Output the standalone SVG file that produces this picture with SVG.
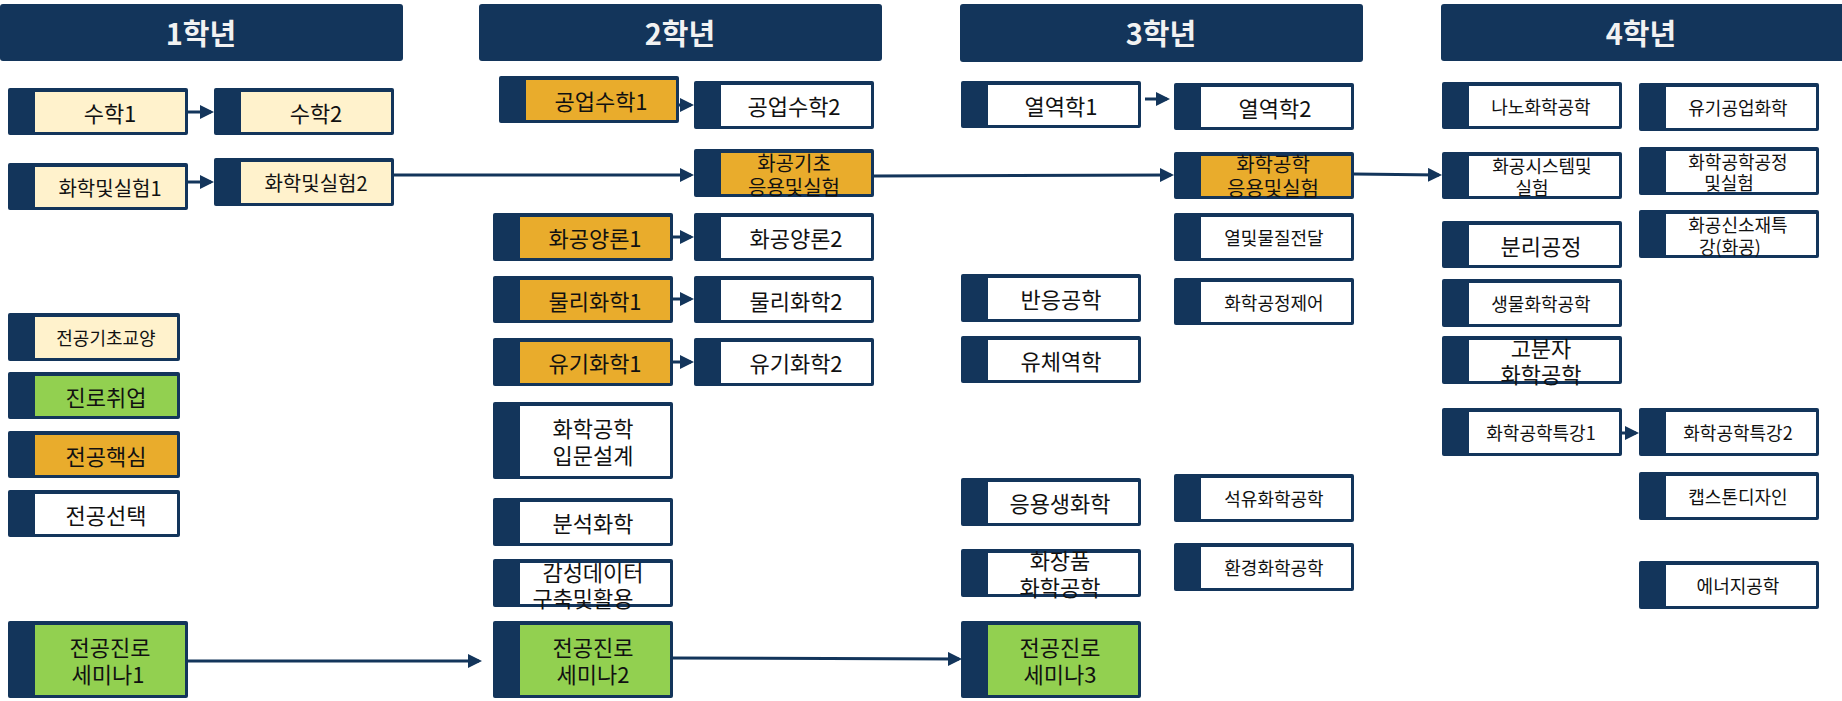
<svg xmlns="http://www.w3.org/2000/svg" width="1842" height="701" viewBox="0 0 1842 701">
<style>
.hd{fill:#13355b}
.ht{font-family:"Noto Sans CJK KR","Noto Sans",sans-serif;font-weight:bold;font-size:29px;fill:#f2f2f2;text-anchor:middle;dominant-baseline:central}
.o{fill:#13355b}
.cr{fill:#fff2cc}
.gr{fill:#92d050}
.or{fill:#e9ac2c}
.wh{fill:#ffffff}
text.t{font-family:"Noto Sans CJK KR","Noto Sans",sans-serif;fill:#111;text-anchor:middle;dominant-baseline:central}
.l{font-size:22px}
.m{font-size:20px}
.s{font-size:18px}
.c{fill:none;stroke:#13355b;stroke-width:3;marker-end:url(#arr)}
.cn{fill:none;stroke:#13355b;stroke-width:3}
</style>
<defs>
<marker id="arr" viewBox="0 0 14 14" refX="11" refY="7" markerWidth="14" markerHeight="14" markerUnits="userSpaceOnUse" orient="auto">
<path d="M0,0 L14,7 L0,14 z" fill="#13355b"/>
</marker>
</defs>
<rect width="1842" height="701" fill="#ffffff"/>
<g id="headers">
<rect class="hd" x="0" y="4" width="403" height="57" rx="3"/><text class="ht" x="201" y="32">1학년</text>
<rect class="hd" x="479" y="4" width="403" height="57" rx="3"/><text class="ht" x="680" y="32">2학년</text>
<rect class="hd" x="960" y="4" width="403" height="58" rx="3"/><text class="ht" x="1161" y="32">3학년</text>
<rect class="hd" x="1441" y="4" width="410" height="57" rx="3"/><text class="ht" x="1641" y="32">4학년</text>
</g>
<g id="connectors">
<path class="c" d="M188,112 H211"/>
<path class="c" d="M188,182 H211"/>
<path class="cn" d="M394,175 H600"/><path class="c" d="M600,175 H691"/>
<path class="c" d="M679,105 H691"/>
<path class="c" d="M673,237 H691"/>
<path class="c" d="M673,299 H691"/>
<path class="c" d="M673,362 H691"/>
<path class="c" d="M874,176 L1171,175"/>
<path class="c" d="M1145,99 H1167"/>
<path class="c" d="M1354,174 L1439,175"/>
<path class="c" d="M1622,433 H1636"/>
<path class="c" d="M188,661 H479"/>
<path class="c" d="M673,658 L959,659"/>
</g>
<g id="n-math1"><rect class="o" x="8" y="88" width="180" height="47" rx="2"/><rect class="cr" x="35" y="92" width="150" height="40"/><text class="t l" x="110" y="112">수학1</text></g>
<g id="n-math2"><rect class="o" x="214" y="88" width="180" height="47" rx="2"/><rect class="cr" x="241" y="92" width="150" height="40"/><text class="t l" x="316" y="112">수학2</text></g>
<g id="n-chem1"><rect class="o" x="8" y="163" width="180" height="47" rx="2"/><rect class="cr" x="35" y="167" width="150" height="40"/><text class="t m" x="110" y="187">화학및실험1</text></g>
<g id="n-chem2"><rect class="o" x="214" y="158" width="180" height="48" rx="2"/><rect class="cr" x="241" y="162" width="150" height="41"/><text class="t m" x="316" y="182">화학및실험2</text></g>
<g id="n-leg1"><rect class="o" x="8" y="313" width="172" height="48" rx="2"/><rect class="cr" x="35" y="317" width="142" height="41"/><text class="t s" x="106" y="337">전공기초교양</text></g>
<g id="n-leg2"><rect class="o" x="8" y="372" width="172" height="47" rx="2"/><rect class="gr" x="35" y="376" width="142" height="40"/><text class="t l" x="106" y="396">진로취업</text></g>
<g id="n-leg3"><rect class="o" x="8" y="431" width="172" height="47" rx="2"/><rect class="or" x="35" y="435" width="142" height="40"/><text class="t l" x="106" y="455">전공핵심</text></g>
<g id="n-leg4"><rect class="o" x="8" y="490" width="172" height="47" rx="2"/><rect class="wh" x="35" y="494" width="142" height="40"/><text class="t l" x="106" y="514">전공선택</text></g>
<g id="n-sem1"><rect class="o" x="8" y="621" width="180" height="77" rx="2"/><rect class="gr" x="35" y="625" width="150" height="70"/><text class="t l" x="110" y="646">전공진로</text><text class="t l" x="108" y="673">세미나1</text></g>
<g id="n-emath1"><rect class="o" x="499" y="76" width="180" height="47" rx="2"/><rect class="or" x="526" y="80" width="150" height="40"/><text class="t l" x="601" y="100">공업수학1</text></g>
<g id="n-bal1"><rect class="o" x="493" y="213" width="180" height="48" rx="2"/><rect class="or" x="520" y="217" width="150" height="41"/><text class="t l" x="595" y="237">화공양론1</text></g>
<g id="n-phys1"><rect class="o" x="493" y="276" width="180" height="47" rx="2"/><rect class="or" x="520" y="280" width="150" height="40"/><text class="t l" x="595" y="300">물리화학1</text></g>
<g id="n-org1"><rect class="o" x="493" y="338" width="180" height="48" rx="2"/><rect class="or" x="520" y="342" width="150" height="41"/><text class="t l" x="595" y="362">유기화학1</text></g>
<g id="n-intro"><rect class="o" x="493" y="402" width="180" height="77" rx="2"/><rect class="wh" x="520" y="406" width="150" height="70"/><text class="t l" x="593" y="427">화학공학</text><text class="t l" x="593" y="454">입문설계</text></g>
<g id="n-anal"><rect class="o" x="493" y="498" width="180" height="48" rx="2"/><rect class="wh" x="520" y="502" width="150" height="41"/><text class="t l" x="593" y="522">분석화학</text></g>
<g id="n-data"><rect class="o" x="493" y="559" width="180" height="48" rx="2"/><rect class="wh" x="520" y="563" width="150" height="41"/><text class="t l" x="593" y="571">감성데이터</text><text class="t l" x="583" y="597">구축및활용</text></g>
<g id="n-sem2"><rect class="o" x="493" y="621" width="180" height="77" rx="2"/><rect class="gr" x="520" y="625" width="150" height="70"/><text class="t l" x="593" y="646">전공진로</text><text class="t l" x="593" y="673">세미나2</text></g>
<g id="n-emath2"><rect class="o" x="694" y="81" width="180" height="48" rx="2"/><rect class="wh" x="721" y="85" width="150" height="41"/><text class="t l" x="794" y="105">공업수학2</text></g>
<g id="n-lab2"><rect class="o" x="694" y="149" width="180" height="48" rx="2"/><rect class="or" x="721" y="153" width="150" height="41"/><text class="t m" x="794" y="162">화공기초</text><text class="t m" x="794" y="186">응용및실험</text></g>
<g id="n-bal2"><rect class="o" x="694" y="213" width="180" height="48" rx="2"/><rect class="wh" x="721" y="217" width="150" height="41"/><text class="t l" x="796" y="237">화공양론2</text></g>
<g id="n-phys2"><rect class="o" x="694" y="276" width="180" height="47" rx="2"/><rect class="wh" x="721" y="280" width="150" height="40"/><text class="t l" x="796" y="300">물리화학2</text></g>
<g id="n-org2"><rect class="o" x="694" y="338" width="180" height="48" rx="2"/><rect class="wh" x="721" y="342" width="150" height="41"/><text class="t l" x="796" y="362">유기화학2</text></g>
<g id="n-thermo1"><rect class="o" x="961" y="81" width="180" height="47" rx="2"/><rect class="wh" x="988" y="85" width="150" height="40"/><text class="t l" x="1061" y="105">열역학1</text></g>
<g id="n-react"><rect class="o" x="961" y="274" width="180" height="48" rx="2"/><rect class="wh" x="988" y="278" width="150" height="41"/><text class="t l" x="1061" y="298">반응공학</text></g>
<g id="n-fluid"><rect class="o" x="961" y="336" width="180" height="47" rx="2"/><rect class="wh" x="988" y="340" width="150" height="40"/><text class="t l" x="1061" y="360">유체역학</text></g>
<g id="n-biochem"><rect class="o" x="961" y="478" width="180" height="48" rx="2"/><rect class="wh" x="988" y="482" width="150" height="41"/><text class="t l" x="1060" y="502">응용생화학</text></g>
<g id="n-cosm"><rect class="o" x="961" y="549" width="180" height="48" rx="2"/><rect class="wh" x="988" y="553" width="150" height="41"/><text class="t l" x="1060" y="559">화장품</text><text class="t l" x="1060" y="586">화학공학</text></g>
<g id="n-sem3"><rect class="o" x="961" y="621" width="180" height="77" rx="2"/><rect class="gr" x="988" y="625" width="150" height="70"/><text class="t l" x="1060" y="646">전공진로</text><text class="t l" x="1060" y="673">세미나3</text></g>
<g id="n-thermo2"><rect class="o" x="1174" y="83" width="180" height="47" rx="2"/><rect class="wh" x="1201" y="87" width="150" height="40"/><text class="t l" x="1275" y="107">열역학2</text></g>
<g id="n-lab3"><rect class="o" x="1174" y="152" width="180" height="47" rx="2"/><rect class="or" x="1201" y="156" width="150" height="40"/><text class="t m" x="1273" y="163">화학공학</text><text class="t m" x="1273" y="187">응용및실험</text></g>
<g id="n-heat"><rect class="o" x="1174" y="213" width="180" height="48" rx="2"/><rect class="wh" x="1201" y="217" width="150" height="41"/><text class="t s" x="1274" y="237">열및물질전달</text></g>
<g id="n-ctrl"><rect class="o" x="1174" y="278" width="180" height="47" rx="2"/><rect class="wh" x="1201" y="282" width="150" height="40"/><text class="t s" x="1274" y="302">화학공정제어</text></g>
<g id="n-petro"><rect class="o" x="1174" y="474" width="180" height="48" rx="2"/><rect class="wh" x="1201" y="478" width="150" height="41"/><text class="t s" x="1274" y="498">석유화학공학</text></g>
<g id="n-env"><rect class="o" x="1174" y="543" width="180" height="48" rx="2"/><rect class="wh" x="1201" y="547" width="150" height="41"/><text class="t s" x="1274" y="567">환경화학공학</text></g>
<g id="n-nano"><rect class="o" x="1442" y="82" width="180" height="47" rx="2"/><rect class="wh" x="1469" y="86" width="150" height="40"/><text class="t s" x="1541" y="106">나노화학공학</text></g>
<g id="n-sys"><rect class="o" x="1442" y="152" width="180" height="47" rx="2"/><rect class="wh" x="1469" y="156" width="150" height="40"/><text class="t s" x="1542" y="165">화공시스템및</text><text class="t s" x="1532" y="187">실험</text></g>
<g id="n-sep"><rect class="o" x="1442" y="221" width="180" height="47" rx="2"/><rect class="wh" x="1469" y="225" width="150" height="40"/><text class="t l" x="1541" y="245">분리공정</text></g>
<g id="n-bio"><rect class="o" x="1442" y="279" width="180" height="48" rx="2"/><rect class="wh" x="1469" y="283" width="150" height="41"/><text class="t s" x="1541" y="303">생물화학공학</text></g>
<g id="n-poly"><rect class="o" x="1442" y="336" width="180" height="48" rx="2"/><rect class="wh" x="1469" y="340" width="150" height="41"/><text class="t l" x="1541" y="347">고분자</text><text class="t l" x="1541" y="373">화학공학</text></g>
<g id="n-sp1"><rect class="o" x="1442" y="408" width="180" height="48" rx="2"/><rect class="wh" x="1469" y="412" width="150" height="41"/><text class="t s" x="1541" y="432">화학공학특강1</text></g>
<g id="n-indorg"><rect class="o" x="1639" y="83" width="180" height="48" rx="2"/><rect class="wh" x="1666" y="87" width="150" height="41"/><text class="t s" x="1738" y="107">유기공업화학</text></g>
<g id="n-proc"><rect class="o" x="1639" y="147" width="180" height="48" rx="2"/><rect class="wh" x="1666" y="151" width="150" height="41"/><text class="t s" x="1738" y="161">화학공학공정</text><text class="t s" x="1729" y="182">및실험</text></g>
<g id="n-newmat"><rect class="o" x="1639" y="210" width="180" height="48" rx="2"/><rect class="wh" x="1666" y="214" width="150" height="41"/><text class="t s" x="1738" y="224">화공신소재특</text><text class="t s" x="1730" y="246">강(화공)</text></g>
<g id="n-sp2"><rect class="o" x="1639" y="408" width="180" height="48" rx="2"/><rect class="wh" x="1666" y="412" width="150" height="41"/><text class="t s" x="1738" y="432">화학공학특강2</text></g>
<g id="n-cap"><rect class="o" x="1639" y="472" width="180" height="48" rx="2"/><rect class="wh" x="1666" y="476" width="150" height="41"/><text class="t s" x="1738" y="496">캡스톤디자인</text></g>
<g id="n-energy"><rect class="o" x="1639" y="561" width="180" height="48" rx="2"/><rect class="wh" x="1666" y="565" width="150" height="41"/><text class="t s" x="1738" y="585">에너지공학</text></g>
</svg>
